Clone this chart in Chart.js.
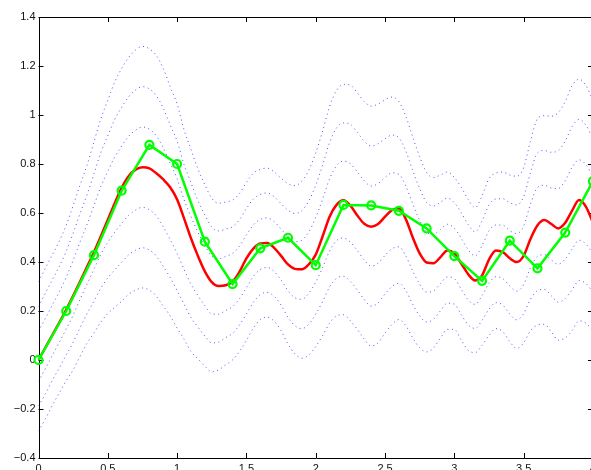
<!DOCTYPE html>
<html>
<head>
<meta charset="utf-8">
<script src="https://cdn.jsdelivr.net/npm/chart.js@4.4.0/dist/chart.umd.min.js"></script>
<style>
  html, body { margin: 0; padding: 0; overflow: hidden; background: #fff; }
  #wrap { width: 600px; height: 480px; }
</style>
</head>
<body>
<div id="wrap"><canvas id="chart" width="600" height="480"></canvas></div>
<script>
// fine x grid for the smooth curves (step 0.05)
const xFine = [0, 0.05, 0.1, 0.15, 0.2, 0.25, 0.3, 0.35, 0.4, 0.45,
  0.5, 0.55, 0.6, 0.65, 0.7, 0.75, 0.8, 0.85, 0.9, 0.95,
  1, 1.05, 1.1, 1.15, 1.2, 1.25, 1.3, 1.35, 1.4, 1.45,
  1.5, 1.55, 1.6, 1.65, 1.7, 1.75, 1.8, 1.85, 1.9, 1.95,
  2, 2.05, 2.1, 2.15, 2.2, 2.25, 2.3, 2.35, 2.4, 2.45,
  2.5, 2.55, 2.6, 2.65, 2.7, 2.75, 2.8, 2.85, 2.9, 2.95,
  3, 3.05, 3.1, 3.15, 3.2, 3.25, 3.3, 3.35, 3.4, 3.45,
  3.5, 3.55, 3.6, 3.65, 3.7, 3.75, 3.8, 3.85, 3.9, 3.95, 4];

// red curve
const redCurve = [0, 0.051, 0.102, 0.153, 0.205, 0.262, 0.32, 0.38, 0.44, 0.505,
  0.572, 0.64, 0.703, 0.75, 0.777, 0.787, 0.782, 0.762, 0.737, 0.705,
  0.655, 0.578, 0.497, 0.425, 0.362, 0.318, 0.302, 0.305, 0.32, 0.36,
  0.415, 0.455, 0.476, 0.478, 0.458, 0.425, 0.39, 0.372, 0.37, 0.39,
  0.43, 0.505, 0.585, 0.633, 0.652, 0.63, 0.59, 0.556, 0.544, 0.555,
  0.585, 0.612, 0.618, 0.575, 0.5, 0.435, 0.398, 0.395, 0.42, 0.447,
  0.435, 0.394, 0.35, 0.325, 0.345, 0.41, 0.447, 0.44, 0.415, 0.4,
  0.425, 0.495, 0.55, 0.571, 0.555, 0.537, 0.56, 0.61, 0.653, 0.625, 0.56];

// blue dotted curves, lowest to highest
const bandLow3 = [-0.29, -0.24, -0.185, -0.135, -0.085, -0.04, 0.015, 0.068, 0.11, 0.155,
  0.19, 0.215, 0.24, 0.268, 0.285, 0.294, 0.285, 0.26, 0.22, 0.18,
  0.13, 0.085, 0.035, 0.005, -0.025, -0.048, -0.04, -0.02, 0, 0.035,
  0.08, 0.13, 0.165, 0.175, 0.158, 0.12, 0.065, 0.025, 0.007, 0.02,
  0.055, 0.1, 0.15, 0.18, 0.185, 0.16, 0.125, 0.085, 0.057, 0.07,
  0.11, 0.145, 0.165, 0.14, 0.09, 0.05, 0.033, 0.05, 0.09, 0.125,
  0.125, 0.081, 0.04, 0.03, 0.06, 0.1, 0.128, 0.115, 0.075, 0.047,
  0.07, 0.12, 0.142, 0.146, 0.115, 0.081, 0.09, 0.12, 0.16, 0.15, 0.12];
const bandLow2 = [-0.188, -0.138, -0.083, -0.032, 0.021, 0.072, 0.132, 0.189, 0.24, 0.293,
  0.335, 0.368, 0.398, 0.429, 0.448, 0.458, 0.449, 0.424, 0.382, 0.336,
  0.283, 0.228, 0.173, 0.134, 0.098, 0.07, 0.073, 0.091, 0.109, 0.143,
  0.188, 0.235, 0.267, 0.276, 0.26, 0.224, 0.174, 0.14, 0.128, 0.146,
  0.187, 0.239, 0.298, 0.333, 0.342, 0.32, 0.286, 0.247, 0.22, 0.233,
  0.269, 0.3, 0.313, 0.283, 0.227, 0.18, 0.155, 0.166, 0.201, 0.232,
  0.228, 0.185, 0.143, 0.129, 0.162, 0.207, 0.234, 0.224, 0.188, 0.164,
  0.189, 0.249, 0.283, 0.288, 0.262, 0.236, 0.251, 0.287, 0.324, 0.312, 0.277];
const bandLow1 = [-0.087, -0.035, 0.02, 0.072, 0.127, 0.183, 0.248, 0.31, 0.37, 0.432,
  0.48, 0.522, 0.557, 0.59, 0.612, 0.623, 0.613, 0.588, 0.543, 0.492,
  0.435, 0.37, 0.31, 0.263, 0.222, 0.188, 0.187, 0.202, 0.218, 0.25,
  0.295, 0.341, 0.369, 0.378, 0.361, 0.327, 0.283, 0.254, 0.248, 0.272,
  0.318, 0.378, 0.445, 0.487, 0.498, 0.481, 0.447, 0.408, 0.383, 0.395,
  0.427, 0.454, 0.462, 0.425, 0.363, 0.31, 0.277, 0.282, 0.312, 0.339,
  0.332, 0.289, 0.245, 0.227, 0.263, 0.313, 0.34, 0.332, 0.302, 0.281,
  0.308, 0.378, 0.423, 0.43, 0.408, 0.391, 0.412, 0.453, 0.489, 0.473, 0.433];
const bandUp1 = [0.117, 0.17, 0.225, 0.278, 0.338, 0.407, 0.482, 0.553, 0.63, 0.708,
  0.77, 0.828, 0.873, 0.913, 0.938, 0.951, 0.942, 0.915, 0.867, 0.803,
  0.74, 0.655, 0.585, 0.522, 0.468, 0.424, 0.413, 0.423, 0.435, 0.465,
  0.51, 0.551, 0.574, 0.58, 0.565, 0.535, 0.502, 0.483, 0.489, 0.523,
  0.582, 0.657, 0.74, 0.793, 0.812, 0.801, 0.768, 0.732, 0.71, 0.72,
  0.745, 0.764, 0.758, 0.71, 0.637, 0.57, 0.521, 0.513, 0.533, 0.554,
  0.538, 0.497, 0.45, 0.425, 0.467, 0.527, 0.551, 0.55, 0.528, 0.516,
  0.547, 0.637, 0.704, 0.713, 0.702, 0.7, 0.733, 0.787, 0.817, 0.797, 0.747];
const bandUp2 = [0.218, 0.273, 0.328, 0.382, 0.444, 0.518, 0.598, 0.674, 0.76, 0.847,
  0.915, 0.982, 1.032, 1.074, 1.102, 1.116, 1.106, 1.079, 1.028, 0.959,
  0.893, 0.798, 0.723, 0.651, 0.592, 0.542, 0.527, 0.534, 0.544, 0.573,
  0.618, 0.657, 0.676, 0.682, 0.666, 0.638, 0.611, 0.598, 0.61, 0.649,
  0.713, 0.796, 0.888, 0.947, 0.968, 0.962, 0.929, 0.893, 0.873, 0.883,
  0.903, 0.918, 0.907, 0.853, 0.773, 0.7, 0.643, 0.629, 0.644, 0.661,
  0.642, 0.601, 0.553, 0.523, 0.568, 0.633, 0.657, 0.658, 0.642, 0.633,
  0.666, 0.766, 0.845, 0.855, 0.848, 0.855, 0.894, 0.953, 0.982, 0.958, 0.903];
const bandUp3 = [0.32, 0.375, 0.43, 0.485, 0.55, 0.63, 0.715, 0.795, 0.89, 0.985,
  1.06, 1.135, 1.19, 1.235, 1.265, 1.28, 1.27, 1.243, 1.19, 1.115,
  1.045, 0.94, 0.86, 0.78, 0.715, 0.66, 0.64, 0.645, 0.653, 0.68,
  0.725, 0.762, 0.778, 0.783, 0.768, 0.742, 0.72, 0.712, 0.73, 0.775,
  0.845, 0.935, 1.035, 1.1, 1.125, 1.122, 1.09, 1.055, 1.036, 1.045,
  1.062, 1.073, 1.055, 0.995, 0.91, 0.83, 0.765, 0.745, 0.755, 0.768,
  0.745, 0.705, 0.655, 0.622, 0.67, 0.74, 0.763, 0.767, 0.755, 0.75,
  0.785, 0.895, 0.985, 0.997, 0.995, 1.01, 1.055, 1.12, 1.146, 1.12, 1.06];

// green sampled points
const xSamples = [0, 0.2, 0.4, 0.6, 0.8, 1, 1.2, 1.4, 1.6, 1.8, 2,
  2.2, 2.4, 2.6, 2.8, 3, 3.2, 3.4, 3.6, 3.8, 4];
const greenSamples = [0, 0.2, 0.428, 0.691, 0.878, 0.8, 0.483, 0.31, 0.456, 0.499, 0.387,
  0.633, 0.631, 0.609, 0.537, 0.424, 0.323, 0.487, 0.374, 0.52, 0.73];

const xTicks = [0, 0.5, 1, 1.5, 2, 2.5, 3, 3.5, 4];
const yTicks = [-0.4, -0.2, 0, 0.2, 0.4, 0.6, 0.8, 1, 1.2, 1.4];

function toPoints(xs, ys) {
  return xs.map((x, i) => ({ x: x, y: ys[i] }));
}

function dotted(values) {
  return {
    data: toPoints(xFine, values),
    borderColor: 'rgba(40,40,255,0.8)',
    borderWidth: 1,
    borderDash: [1, 3.5],
    pointRadius: 0,
    cubicInterpolationMode: 'monotone',
    order: 3
  };
}

// box with inward ticks, matlab style
const frameTicks = {
  id: 'frameTicks',
  beforeDatasetsDraw(chart) {
    const ctx = chart.ctx;
    const a = chart.chartArea;
    const xs = chart.scales.x, ys = chart.scales.y;
    const len = 5;
    ctx.save();
    ctx.strokeStyle = '#000';
    ctx.lineWidth = 1;
    ctx.beginPath();
    ctx.rect(Math.round(a.left) + 0.5, Math.round(a.top) + 0.5,
      Math.round(a.right - a.left), Math.round(a.bottom - a.top));
    xTicks.forEach(v => {
      const px = Math.round(xs.getPixelForValue(v)) + 0.5;
      ctx.moveTo(px, a.bottom); ctx.lineTo(px, a.bottom - len);
      ctx.moveTo(px, a.top); ctx.lineTo(px, a.top + len);
    });
    yTicks.forEach(v => {
      const py = Math.round(ys.getPixelForValue(v)) + 0.5;
      ctx.moveTo(a.left, py); ctx.lineTo(a.left + len, py);
      ctx.moveTo(a.right, py); ctx.lineTo(a.right - len, py);
    });
    ctx.stroke();
    ctx.restore();
  }
};

const tickFont = { family: "'Liberation Sans', Arial, Helvetica, sans-serif", size: 11 };

new Chart(document.getElementById('chart'), {
  type: 'line',
  data: {
    datasets: [
      {
        data: toPoints(xSamples, greenSamples),
        borderColor: 'rgb(0,255,0)',
        borderWidth: 2.5,
        pointRadius: 4,
        pointBorderWidth: 2.2,
        pointBorderColor: 'rgb(0,255,0)',
        pointBackgroundColor: 'rgba(0,0,0,0)',
        tension: 0,
        clip: false,
        order: 1
      },
      {
        data: toPoints(xFine, redCurve),
        borderColor: 'rgb(255,0,0)',
        borderWidth: 2.5,
        pointRadius: 0,
        cubicInterpolationMode: 'monotone',
        order: 2
      },
      dotted(bandLow3),
      dotted(bandLow2),
      dotted(bandLow1),
      dotted(bandUp1),
      dotted(bandUp2),
      dotted(bandUp3)
    ]
  },
  options: {
    responsive: false,
    animation: false,
    events: [],
    layout: { padding: { top: 17, right: 4, left: 0, bottom: 0 } },
    plugins: { legend: { display: false }, tooltip: { enabled: false } },
    scales: {
      x: {
        type: 'linear',
        min: 0,
        max: 4,
        afterBuildTicks: s => { s.ticks = xTicks.map(v => ({ value: v })); },
        afterFit: s => { s.height = 22; },
        grid: { display: false, drawTicks: false },
        border: { display: false },
        ticks: {
          padding: 4,
          color: '#111',
          font: tickFont,
          maxRotation: 0,
          autoSkip: false,
          callback: v => String(v)
        }
      },
      y: {
        type: 'linear',
        min: -0.4,
        max: 1.4,
        afterBuildTicks: s => { s.ticks = yTicks.map(v => ({ value: v })); },
        afterFit: s => { s.width = 38.5; },
        grid: { display: false, drawTicks: false },
        border: { display: false },
        ticks: {
          padding: 3,
          color: '#111',
          font: tickFont,
          autoSkip: false,
          callback: v => String(Math.round(v * 10) / 10).replace('-', '\u2212')
        }
      }
    }
  },
  plugins: [frameTicks]
});
</script>
</body>
</html>
